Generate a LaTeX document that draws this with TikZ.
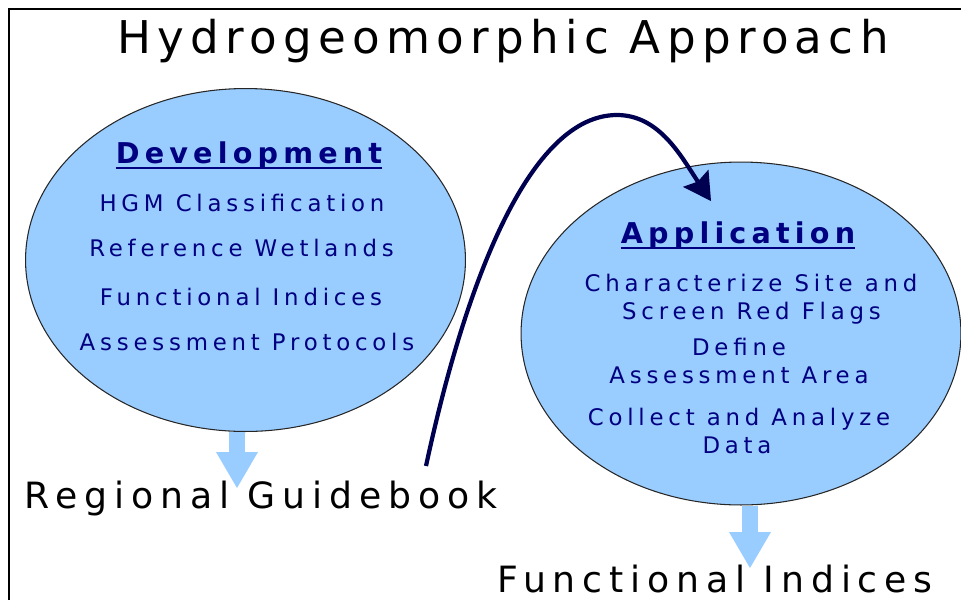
\documentclass[tikz,border=0pt]{standalone}
\usepackage{fontspec}
\setmainfont{DejaVu Sans}
\newfontfamily\titlefont[LetterSpace=14]{DejaVu Sans}
\newfontfamily\labelfont[LetterSpace=19]{DejaVu Sans}
\newfontfamily\itemfont[LetterSpace=21]{DejaVu Sans}
\newfontfamily\headfont[LetterSpace=18]{DejaVu Sans Bold}
\usetikzlibrary{
    positioning,           % Relative positioning
    shapes.geometric,      % Ellipses
    arrows.meta            % Modern arrow tips
}
\definecolor{blobblue}{RGB}{153,204,255}
\definecolor{itemnavy}{RGB}{0,0,128}
\definecolor{flownavy}{RGB}{0,0,80}

\tikzset{
    blob/.style={ellipse, draw=black!85, line width=0.6pt, fill=blobblue,
        minimum width=8.8cm, minimum height=6.86cm, inner sep=0pt},
    titletext/.style={anchor=base, inner sep=0pt, font=\titlefont\fontsize{25.7}{30}\selectfont},
    bigtext/.style={anchor=base, inner sep=0pt, font=\labelfont\fontsize{20.6}{24}\selectfont},
    headtext/.style={anchor=base, inner sep=0pt, text=itemnavy, font=\headfont\fontsize{16.3}{19}\selectfont},
    itemtext/.style={anchor=base, inner sep=0pt, text=itemnavy, font=\itemfont\fontsize{13}{15}\selectfont},
    headline/.style={itemnavy, line width=1.1pt},
    blockarrow/.style={blobblue, line width=0.32cm,
        -{Triangle[length=0.72cm, width=0.84cm, line width=0pt]}},
    flow/.style={flownavy, line width=2.4pt,
        -{Stealth[length=0.55cm, width=0.62cm, inset=0.08cm, line width=0pt]}},
    frameline/.style={black, line width=1.1pt}
}

\begin{document}
\begin{tikzpicture}[x=0.02cm, y=-0.02cm]
    \useasboundingbox (0,0) rectangle (961,600);
    \draw[frameline] (9,600) -- (9,9) -- (961,9);

    % title
    \node[titletext] (title) at (503,53) {Hydrogeomorphic Approach};

    % the two bubbles
    \node[blob] (dev) at (245.5,260) {};
    \node[blob] (app) at (741,333.5) {};

    % outputs
    \node[bigtext] (guide) at (261,508) {Regional Guidebook};
    \node[bigtext] (indices) at (715,592) {Functional Indices};
    \coordinate (devtip) at (237,488);
    \coordinate (apptip) at (750,568);
    \draw[blockarrow] (dev.south -| devtip) -- (devtip);
    \draw[blockarrow] (app.south -| apptip) -- (apptip);

    % guidebook feeds the application
    \coordinate (flowstart) at (426,466);
    \coordinate (flowend) at (711,201);
    \draw[flow] (flowstart) .. controls (466,280) and (530,115) .. (617,115)
        .. controls (660,115) and (682,158) .. (flowend);

    % development
    \node[headtext] (devhead) at (249,163) {Development};
    \draw[headline] ([yshift=-0.1cm]devhead.base west) -- ([yshift=-0.1cm]devhead.base east);
    \node[itemtext] (dev1) at (242,211) {HGM Classification};
    \node[itemtext] (dev2) at (241.5,256) {Reference Wetlands};
    \node[itemtext] (dev3) at (241,305) {Functional Indices};
    \node[itemtext] (dev4) at (247,350) {Assessment Protocols};

    % application
    \node[headtext] (apphead) at (738,243) {Application};
    \draw[headline] ([yshift=-0.1cm]apphead.base west) -- ([yshift=-0.1cm]apphead.base east);
    \node[itemtext] (app1) at (751,291) {Characterize Site and};
    \node[itemtext] (app2) at (751.5,319) {Screen Red Flags};
    \node[itemtext] (app3) at (739,355) {Define};
    \node[itemtext] (app4) at (739,383) {Assessment Area};
    \node[itemtext] (app5) at (739,425) {Collect and Analyze};
    \node[itemtext] (app6) at (737,453) {Data};
\end{tikzpicture}
\end{document}
